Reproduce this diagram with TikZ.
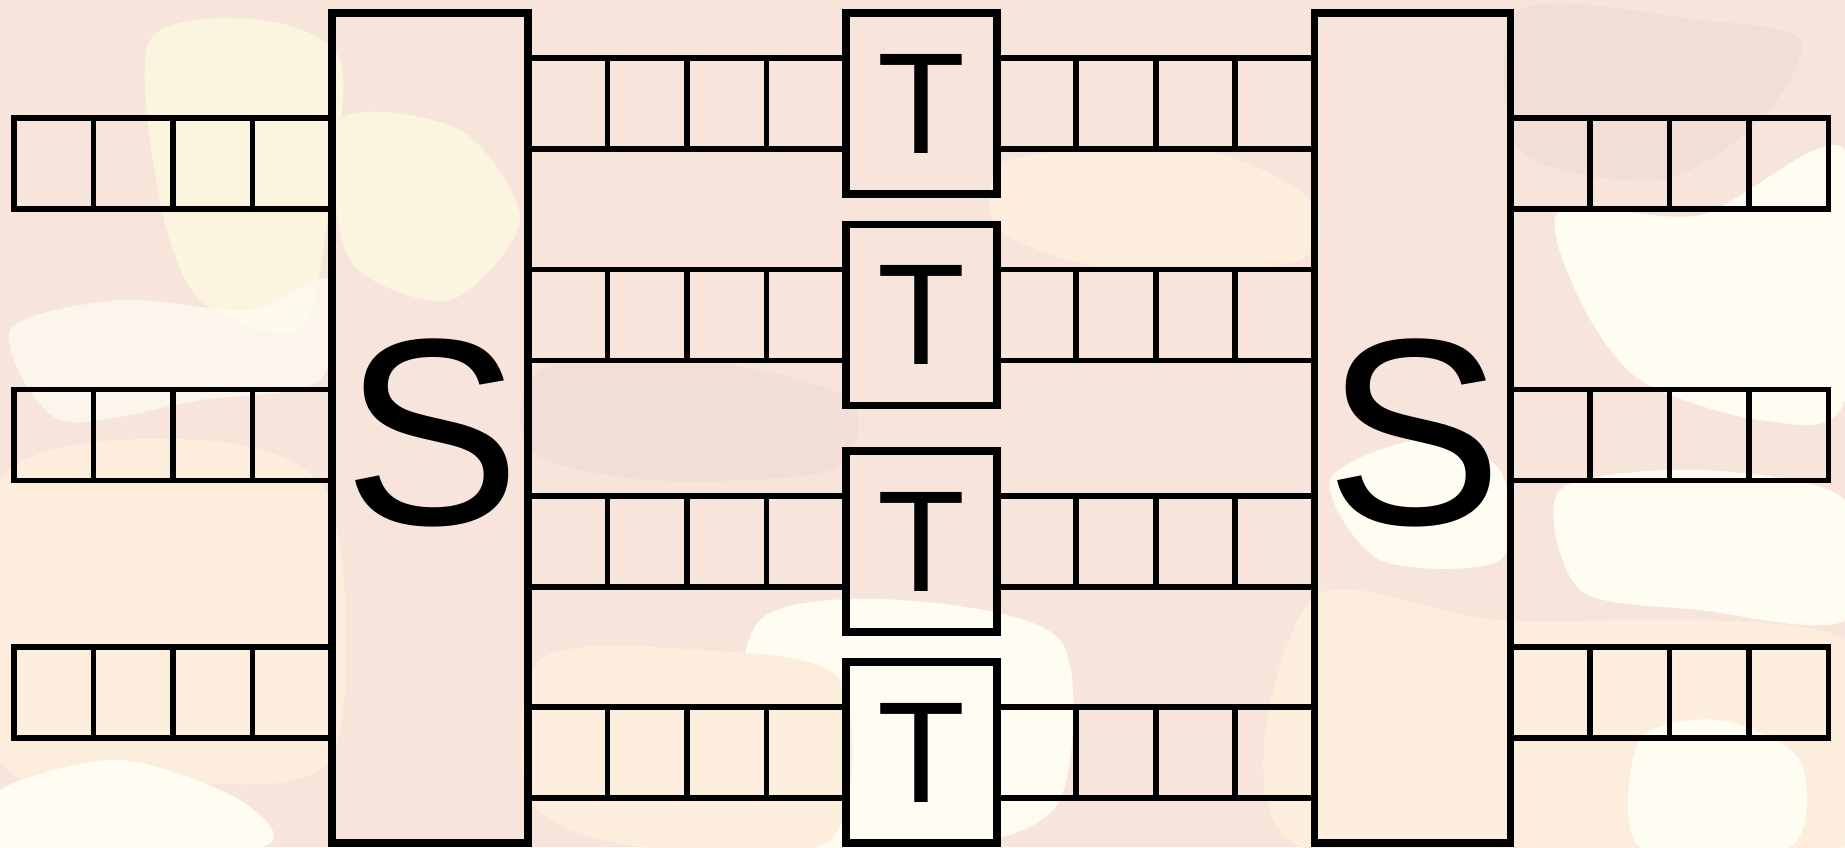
\documentclass[tikz,border=0pt]{standalone}
\usepackage{fontspec}
\setmainfont{Liberation Sans}
\usetikzlibrary{calc}
\definecolor{bgbase}{HTML}{F7E5DC}
\definecolor{bglight}{HTML}{FFFCF2}
\definecolor{bgcream}{HTML}{FCEDDC}
\definecolor{bgyellow}{HTML}{FBF5DF}
\definecolor{bgpink}{HTML}{F2DED7}
\begin{document}
\begin{tikzpicture}[x=0.5pt,y=-0.5pt,
  boxline/.style={draw=black,line width=3.85pt,rectangle,inner sep=0pt,outer sep=0pt},
  sbox/.style={boxline,minimum width=98pt,minimum height=415pt},
  sletter/.style={inner sep=0pt,font=\fontsize{133}{133}\selectfont},
  tbox/.style={boxline,minimum width=75.5pt,minimum height=90.5pt,font=\fontsize{72}{72}\selectfont},
  queue/.style={draw=black,line width=2.85pt,rectangle,minimum width=159pt,minimum height=45.5pt,inner sep=0pt,outer sep=0pt},
  divider/.style={draw=black,line width=2.85pt},
  blob/.style={line width=0pt}]
\useasboundingbox (0,0) rectangle (1845,847);
% background
\fill[bgbase] (0,0) rectangle (1845,847);
\fill[bgyellow,blob] plot[smooth cycle] coordinates {(150,40) (260,20) (340,60) (330,200) (300,330) (200,300) (160,200)};
\fill[bgcream,blob] plot[smooth cycle] coordinates {(0,480) (200,440) (330,500) (330,760) (150,780) (0,760)};
\fill[bglight,blob,opacity=0.7] plot[smooth cycle] coordinates {(10,330) (120,300) (250,310) (330,280) (320,380) (200,400) (60,420)};
\fill[bglight,blob] plot[smooth cycle] coordinates {(0,790) (120,760) (240,800) (260,847) (0,847)};
\fill[bglight,blob] plot[smooth cycle] coordinates {(1560,210) (1700,215) (1845,150) (1845,400) (1760,420) (1640,380) (1580,300)};
\fill[bglight,blob] plot[smooth cycle] coordinates {(1560,490) (1700,470) (1845,500) (1845,620) (1700,610) (1580,590)};
\fill[bglight,blob] plot[smooth cycle] coordinates {(760,620) (900,600) (1060,640) (1060,800) (960,847) (800,847) (740,760)};
\fill[bgcream,blob] plot[smooth cycle] coordinates {(1310,600) (1500,620) (1845,640) (1845,847) (1300,847)};
\fill[bglight,blob] plot[smooth cycle] coordinates {(1640,740) (1720,720) (1800,760) (1790,847) (1640,847)};
\fill[bgpink,blob] plot[smooth cycle] coordinates {(540,370) (700,360) (850,400) (830,470) (650,480) (530,450)};
\fill[bgpink,blob] plot[smooth cycle] coordinates {(1520,10) (1700,20) (1800,40) (1760,120) (1660,180) (1520,150)};
\fill[bgcream,blob] plot[smooth cycle] coordinates {(1010,160) (1200,150) (1310,200) (1300,260) (1120,270) (1000,230)};
\fill[bgcream,blob] plot[smooth cycle] coordinates {(540,660) (700,650) (840,680) (830,840) (640,847) (530,800)};
\fill[bgyellow,blob] plot[smooth cycle] coordinates {(340,120) (460,130) (520,220) (450,300) (350,260)};
\fill[bglight,blob] plot[smooth cycle] coordinates {(1330,480) (1420,440) (1500,470) (1500,560) (1380,560)};
% S and T boxes
\node[sbox] (S1) at (430,428) {};
\node[sbox] (S2) at (1412.5,428) {};
\node[sletter] (S1t) at ($(S1.center)+(2,5)$) {S};
\node[sletter] (S2t) at ($(S2.center)+(2,5)$) {S};
\node[tbox] (T1) at (921.5,103.5) {T};
\node[tbox] (T2) at (921.5,315) {T};
\node[tbox] (T3) at (921.5,541.5) {T};
\node[tbox] (T4) at (921.5,752.75) {T};
% outer queues
\node[queue] (L1) at (173,163.5) {};
\node[queue] (L2) at (173,435) {};
\node[queue] (L3) at (173,692.5) {};
\node[queue] (R1) at (1669.5,163.5) {};
\node[queue] (R2) at (1669.5,435) {};
\node[queue] (R3) at (1669.5,692.5) {};
% middle queues between S and T
\foreach \i in {1,2,3,4}{
  \node[queue] (A\i) at ($(S1.east |- T\i.center)!0.5!(T\i.west)$) {};
  \node[queue] (B\i) at ($(T\i.east)!0.5!(S2.west |- T\i.center)$) {};
}
% dividers
\foreach \q in {L1,L2,L3,R1,R2,R3,A1,A2,A3,A4,B1,B2,B3,B4}{
  \foreach \f in {0.25,0.5,0.75}{
    \draw[divider] ($(\q.north west)!\f!(\q.north east)$) -- ($(\q.south west)!\f!(\q.south east)$);
  }
}
% redraw box borders on top
\foreach \b in {S1,S2,T1,T2,T3,T4}{
  \draw[line width=3.85pt] (\b.north west) rectangle (\b.south east);
}
\end{tikzpicture}
\end{document}
